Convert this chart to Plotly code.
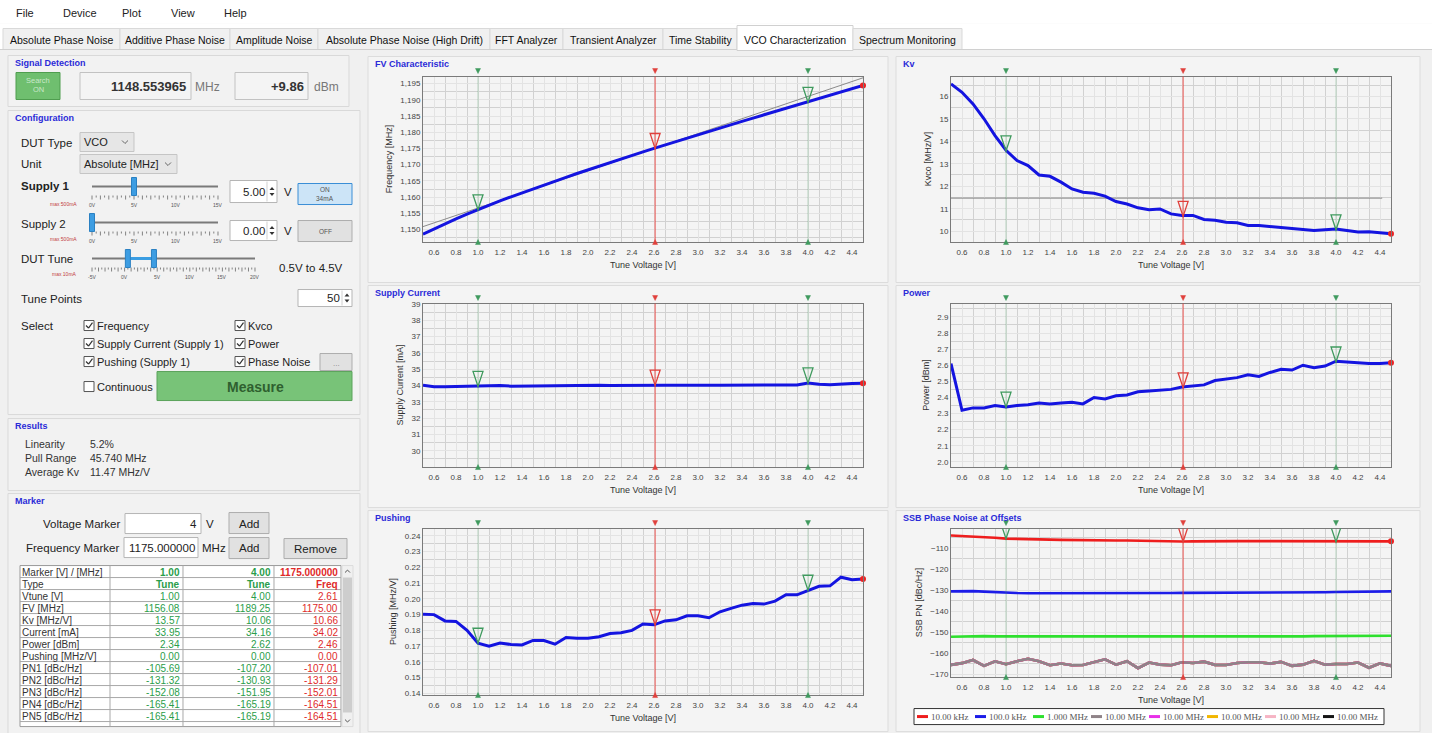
import plotly.graph_objects as go

W, H = 1432, 733
FONT = "Liberation Sans, Arial, sans-serif"
SERIF = "Liberation Serif, Times New Roman, serif"

# ---------------- data ----------------
tune_v = [0.5, 0.6, 0.7, 0.8, 0.9, 1.0, 1.1, 1.2, 1.3, 1.4, 1.5, 1.6, 1.7, 1.8, 1.9, 2.0,
          2.1, 2.2, 2.3, 2.4, 2.5, 2.6, 2.7, 2.8, 2.9, 3.0, 3.1, 3.2, 3.3, 3.4, 3.5, 3.6,
          3.7, 3.8, 3.9, 4.0, 4.1, 4.2, 4.3, 4.4, 4.5]
fv_mhz = [1148.55, 1150.19, 1151.78, 1153.31, 1154.77, 1156.17, 1157.51, 1158.81, 1160.08,
          1161.33, 1162.56, 1163.76, 1164.94, 1166.11, 1167.28, 1168.42, 1169.55, 1170.66,
          1171.76, 1172.86, 1173.95, 1175.02, 1176.09, 1177.15, 1178.20, 1179.24, 1180.28,
          1181.31, 1182.34, 1183.36, 1184.38, 1185.40, 1186.41, 1187.41, 1188.42, 1189.42,
          1190.43, 1191.43, 1192.42, 1193.42, 1194.41]
fv_fit_v = [0.5, 4.5]
fv_fit_mhz = [1150.9, 1196.8]
kv_mhz_v = [16.55, 16.18, 15.66, 15.00, 14.25, 13.60, 13.14, 12.92, 12.50, 12.44, 12.18,
            11.88, 11.73, 11.69, 11.56, 11.32, 11.21, 11.04, 10.95, 10.99, 10.77, 10.70,
            10.70, 10.52, 10.49, 10.40, 10.37, 10.25, 10.25, 10.22, 10.16, 10.12, 10.07,
            10.03, 10.06, 10.10, 10.03, 9.96, 9.97, 9.93, 9.89]
kv_avg_v = [0.5, 4.42]
kv_avg = [11.47, 11.47]
current_ma = [34.02, 33.93, 33.93, 33.95, 33.96, 33.95, 33.97, 34.00, 33.96, 33.97, 33.98,
              33.99, 34.00, 34.00, 34.00, 34.00, 34.01, 34.00, 34.01, 34.02, 34.01, 34.02,
              34.01, 34.01, 34.00, 34.01, 34.01, 34.02, 34.02, 34.02, 34.02, 34.03, 34.02,
              34.02, 34.03, 34.16, 34.08, 34.05, 34.10, 34.12, 34.14]
power_dbm = [2.61, 2.32, 2.335, 2.335, 2.35, 2.34, 2.35, 2.355, 2.365, 2.36, 2.365, 2.37,
             2.36, 2.40, 2.39, 2.41, 2.415, 2.435, 2.44, 2.447, 2.45, 2.465, 2.47, 2.478,
             2.505, 2.515, 2.523, 2.54, 2.53, 2.555, 2.575, 2.57, 2.60, 2.585, 2.595, 2.625,
             2.62, 2.615, 2.61, 2.61, 2.615]
pushing_mhz_v = [0.1903, 0.1900, 0.1860, 0.1857, 0.1800, 0.1718, 0.1700, 0.1720, 0.1710,
                 0.1707, 0.1736, 0.1735, 0.1712, 0.1755, 0.1750, 0.1750, 0.1760, 0.1780,
                 0.1785, 0.1800, 0.1840, 0.1835, 0.1860, 0.1867, 0.1893, 0.1893, 0.1880,
                 0.1918, 0.1940, 0.1960, 0.1970, 0.1967, 0.1986, 0.2026, 0.2026, 0.2055,
                 0.2080, 0.2083, 0.2138, 0.2122, 0.2127]
pn_10k = [-104.1, -104.3, -104.6, -104.9, -105.2, -105.6, -105.8, -105.9, -106.0, -106.1,
          -106.2, -106.3, -106.5, -106.6, -106.5, -106.5, -106.5, -106.6, -106.8, -107.1,
          -107.0, -107.0, -106.9, -106.8, -106.8, -106.8, -106.8, -106.8, -106.8, -106.8,
          -106.8, -106.9, -107.0, -107.1, -107.1, -107.1, -107.0, -107.0, -106.9, -106.9,
          -106.9]
pn_100k = [-130.6, -130.5, -130.5, -130.7, -131.0, -131.3, -131.4, -131.5, -131.5, -131.6,
           -131.6, -131.6, -131.5, -131.5, -131.5, -131.4, -131.4, -131.7, -131.6, -131.5,
           -131.4, -131.3, -131.3, -131.3, -131.2, -131.2, -131.2, -131.2, -131.1, -131.1,
           -131.1, -131.1, -131.1, -131.0, -131.0, -130.9, -130.9, -130.9, -130.8, -130.7,
           -130.6]
pn_1m = [-152.1, -151.9, -151.8, -151.8, -151.9, -151.9, -152.0, -152.0, -152.0, -152.0,
         -152.0, -152.0, -152.1, -152.2, -152.1, -152.1, -152.1, -152.1, -152.1, -152.0,
         -152.0, -152.0, -152.0, -152.0, -152.0, -152.0, -151.9, -151.9, -151.9, -152.0,
         -152.0, -152.0, -151.9, -151.8, -151.8, -151.8, -151.7, -151.7, -151.6, -151.6,
         -151.6]
pn_10m = [-165.4, -164.6, -163.1, -165.9, -163.7, -165.1, -163.7, -162.5, -163.7, -165.6,
          -164.8, -165.6, -165.5, -164.0, -162.8, -165.3, -163.7, -167.0, -164.3, -165.3,
          -165.6, -164.2, -164.5, -163.9, -165.4, -165.5, -164.5, -164.2, -164.2, -164.8,
          -164.0, -165.9, -165.3, -163.5, -165.3, -165.0, -165.0, -164.3, -166.8, -164.7,
          -165.9]
pn_names = ["10.00 kHz", "100.0 kHz", "1.000 MHz", "10.00 MHz", "10.00 MHz", "10.00 MHz",
            "10.00 MHz", "10.00 MHz"]
pn_colors = ["#ee1d1d", "#1c1ce8", "#2ee02e", "#8f8388", "#e830e8", "#f2b600", "#f6b4c4",
             "#151515"]
pn_series = [pn_10k, pn_100k, pn_1m, pn_10m, pn_10m, pn_10m, pn_10m, pn_10m]

# markers (tune 1.00 V, tune 4.00 V, freq 1175 MHz -> 2.61 V)
marker_v = [1.00, 4.00, 2.61]
marker_colors = ["#3f9a5e", "#3f9a5e", "#e0403c"]
fv_at = [1156.08, 1189.25, 1175.00]
kv_at = [13.57, 10.06, 10.66]
current_at = [33.95, 34.16, 34.02]
power_at = [2.34, 2.62, 2.46]
pushing_at = [0.1718, 0.2055, 0.1835]
pn1_at = [-105.69, -107.20, -107.01]

# marker table
tbl_labels = ["Marker [V] / [MHz]", "Type", "Vtune [V]", "FV [MHz]", "Kv [MHz/V]",
              "Current [mA]", "Power [dBm]", "Pushing [MHz/V]", "PN1 [dBc/Hz]",
              "PN2 [dBc/Hz]", "PN3 [dBc/Hz]", "PN4 [dBc/Hz]", "PN5 [dBc/Hz]"]
tbl_m1 = ["1.00", "Tune", "1.00", "1156.08", "13.57", "33.95", "2.34", "0.00", "-105.69",
          "-131.32", "-152.08", "-165.41", "-165.41"]
tbl_m2 = ["4.00", "Tune", "4.00", "1189.25", "10.06", "34.16", "2.62", "0.00", "-107.20",
          "-130.93", "-151.95", "-165.19", "-165.19"]
tbl_m3 = ["1175.000000", "Freq", "2.61", "1175.00", "10.66", "34.02", "2.46", "0.00",
          "-107.01", "-131.29", "-152.01", "-164.51", "-164.51"]

menu_items = [("File", 15), ("Device", 62), ("Plot", 121), ("View", 170), ("Help", 223)]
tabs = [("Absolute Phase Noise", 3, 120), ("Additive Phase Noise", 120, 230),
        ("Amplitude Noise", 230, 318), ("Absolute Phase Noise (High Drift)", 318, 490),
        ("FFT Analyzer", 490, 563), ("Transient Analyzer", 563, 663),
        ("Time Stability", 663, 737), ("VCO Characterization", 737, 853),
        ("Spectrum Monitoring", 853, 962)]
active_tab = "VCO Characterization"

# ---------------- helpers ----------------
# screen-pixel -> paper mapping (calibrated vertical offset/scale of the photographed page)
Y_OFF, Y_SC = 3.5, 0.989
shapes, annots = [], []


def X(x):
    return x / W


def Y(y):
    return 1 - ((y - Y_OFF) / Y_SC) / H


def rect(x0, y0, x1, y1, fill=None, line=None, lw=1, layer="below"):
    shapes.append(dict(type="rect", xref="paper", yref="paper", x0=X(x0), x1=X(x1),
                       y0=Y(y1), y1=Y(y0), fillcolor=fill or "rgba(0,0,0,0)",
                       line=dict(color=line or "rgba(0,0,0,0)", width=lw if line else 0),
                       layer=layer))


def segs(lst, color, w=1, layer="below"):
    p = " ".join(f"M{X(a):.5f},{Y(b):.5f} L{X(c):.5f},{Y(d):.5f}" for a, b, c, d in lst)
    shapes.append(dict(type="path", xref="paper", yref="paper", path=p,
                       line=dict(color=color, width=w), layer=layer))


def poly(pts, fill=None, line=None, lw=1, layer="below"):
    p = "M" + " L".join(f"{X(a):.5f},{Y(b):.5f}" for a, b in pts) + " Z"
    shapes.append(dict(type="path", xref="paper", yref="paper", path=p,
                       fillcolor=fill or "rgba(0,0,0,0)",
                       line=dict(color=line or "rgba(0,0,0,0)", width=lw if line else 0),
                       layer=layer))


def txt(x, y, s, size=11, color="#222", anchor="left", bold=False, family=FONT):
    annots.append(dict(xref="paper", yref="paper", x=X(x), y=Y(y), showarrow=False,
                       text=f"<b>{s}</b>" if bold else s, xanchor=anchor, yanchor="middle",
                       font=dict(family=family, size=size, color=color), borderpad=0))


def group(x0, y0, x1, y1, title):
    rect(x0, y0, x1, y1, fill="#f2f2f2", line="#d9d9d9")
    txt(x0 + 6, y0 + 7, title, size=9, color="#2b2bd8", bold=True)


def spin_arrows(x, yc):
    poly([(x - 2.5, yc - 1.5), (x + 2.5, yc - 1.5), (x, yc - 4.5)], fill="#333")
    poly([(x - 2.5, yc + 1.5), (x + 2.5, yc + 1.5), (x, yc + 4.5)], fill="#333")


def spinbox(x0, y0, x1, y1, value):
    rect(x0, y0, x1, y1, fill="#ffffff", line="#b5b5b5")
    txt(x1 - 11, (y0 + y1) / 2, value, size=11.5, color="#222", anchor="right")
    segs([(x1 - 10, y0 + 1, x1 - 10, y1 - 1)], "#d0d0d0")
    spin_arrows(x1 - 5, (y0 + y1) / 2)


def button(x0, y0, x1, y1, fill="#e1e1e1", line="#adadad"):
    rect(x0, y0, x1, y1, fill=fill, line=line)


def dropdown(x0, y0, x1, y1, value):
    rect(x0, y0, x1, y1, fill="#e6e6e6", line="#c5c5c5")
    txt(x0 + 3, (y0 + y1) / 2, value, size=11, color="#222")
    yc = (y0 + y1) / 2
    segs([(x1 - 12, yc - 1.5, x1 - 9, yc + 1.5), (x1 - 9, yc + 1.5, x1 - 6, yc - 1.5)], "#666")


def checkbox(x, y, label, checked=True):
    rect(x, y - 5, x + 10, y + 5, fill="#ffffff", line="#555")
    if checked:
        segs([(x + 2, y, x + 4.5, y + 2.5), (x + 4.5, y + 2.5, x + 8.5, y - 3)], "#333", 1.2)
    txt(x + 12, y, label, size=11, color="#222")


def slider(x0, x1, y, vmin, vmax, thumbs, labels, maxtxt, maxy):
    segs([(x0, y, x1, y)], "#7a7a7a", 2)
    n = int((vmax - vmin) * 2)
    tl = []
    for i in range(n + 1):
        xx = x0 + (x1 - x0) * i / n
        h = 4 if i % 2 == 0 else 2
        tl.append((xx, y + 9, xx, y + 9 + h))
    segs(tl, "#666", 0.8)
    for lv in labels:
        xx = x0 + (x1 - x0) * (lv - vmin) / (vmax - vmin)
        txt(xx, y + 18, f"{lv}V", size=5, color="#555", anchor="center")
    pos = [x0 + (x1 - x0) * (t - vmin) / (vmax - vmin) for t in thumbs]
    if len(pos) == 2:
        segs([(pos[0], y, pos[1], y)], "#3a9de2", 3)
    for xx in pos:
        rect(xx - 2.5, y - 9, xx + 2.5, y + 9, fill="#3d9de2", line="#2a80c2")
    txt(78, maxy, maxtxt, size=5, color="#c24040", anchor="right")


# ---------------- window chrome ----------------
rect(0, -10, W, 23, fill="#ffffff")
for name, x in menu_items:
    txt(x, 12, name, size=11, color="#222")
rect(0, 23, W, 49, fill="#ffffff")
for name, x0, x1 in tabs:
    if name == active_tab:
        rect(x0, 25, x1, 50, fill="#ffffff", line="#d0d0d0")
    else:
        rect(x0, 28, x1, 49, fill="#f0f0f0", line="#d9d9d9")
    txt((x0 + x1) / 2, 39, name, size=10.5, color="#111", anchor="center")
segs([(0, 49, 737, 49), (853, 49, W, 49)], "#d0d0d0")

# ---------------- left panel ----------------
group(8, 55, 349, 106, "Signal Detection")
button(16, 72, 60, 99, fill="#6fbf6f", line="#4f9d4f")
txt(38, 80, "Search", size=7.5, color="#c9e7c9", anchor="center")
txt(38, 89, "ON", size=7.5, color="#c9e7c9", anchor="center")
rect(80, 72, 191, 99, fill="#f4f4f4", line="#c2c2c2")
txt(187, 86, "1148.553965", size=13, color="#333", anchor="right", bold=True)
txt(194, 86, "MHz", size=12, color="#777")
rect(235, 72, 308, 99, fill="#f4f4f4", line="#c2c2c2")
txt(305, 86, "+9.86", size=13, color="#333", anchor="right", bold=True)
txt(313, 86, "dBm", size=12, color="#777")

group(8, 110, 360, 414, "Configuration")
txt(20, 142, "DUT Type", size=11.5)
dropdown(80, 132, 134, 151, "VCO")
txt(20, 163, "Unit", size=11.5)
dropdown(80, 154, 177, 173, "Absolute [MHz]")
txt(20, 185, "Supply 1", size=11.5, bold=True)
slider(92, 218, 186, 0, 15, [5], [0, 5, 10, 15], "max 500mA", 203)
spinbox(230, 180, 277, 202, "5.00")
txt(283, 191, "V", size=11.5)
button(298, 183, 352, 204, fill="#cce4f7", line="#3a8ed6")
txt(325, 189, "ON", size=6.5, color="#555", anchor="center")
txt(325, 198, "34mA", size=6.5, color="#555", anchor="center")
txt(20, 223, "Supply 2", size=11.5)
slider(92, 218, 222, 0, 15, [0], [0, 5, 10, 15], "max 500mA", 238)
spinbox(230, 220, 277, 240, "0.00")
txt(283, 230, "V", size=11.5)
button(298, 220, 352, 241)
txt(325, 231, "OFF", size=6.5, color="#555", anchor="center")
txt(20, 258, "DUT Tune", size=11.5)
slider(92, 255, 258, -5, 20, [0.5, 4.5], [-5, 0, 5, 10, 15, 20], "max 10mA", 273)
txt(278, 267, "0.5V to 4.5V", size=11.5)
txt(20, 298, "Tune Points", size=11.5)
spinbox(298, 289, 352, 306, "50")

txt(20, 325, "Select", size=11.5)
checkbox(84, 325, "Frequency")
checkbox(235, 325, "Kvco")
checkbox(84, 343, "Supply Current (Supply 1)")
checkbox(235, 343, "Power")
checkbox(84, 361, "Pushing (Supply 1)")
checkbox(235, 361, "Phase Noise")
button(320, 353, 352, 370)
txt(336, 363, "...", size=8, color="#888", anchor="center")
checkbox(84, 386, "Continuous", checked=False)
button(157, 371, 352, 400, fill="#78c378", line="#5aa35a")
txt(255, 386, "Measure", size=14, color="#2f5f2f", anchor="center", bold=True)

group(8, 418, 360, 490, "Results")
for (lab, val, yy) in [("Linearity", "5.2%", 443), ("Pull Range", "45.740 MHz", 457),
                       ("Average Kv", "11.47 MHz/V", 471)]:
    txt(24, yy, lab, size=10.5, color="#333")
    txt(89, yy, val, size=10.5, color="#333")

group(8, 493, 360, 740, "Marker")
txt(122, 523, "Voltage Marker", size=11.5, anchor="right")
rect(125, 513, 201, 533, fill="#ffffff", line="#b5b5b5")
txt(198, 523, "4", size=11.5, anchor="right")
txt(205, 523, "V", size=11.5)
button(229, 512, 269, 533)
txt(249, 523, "Add", size=11.5, anchor="center")
txt(120, 547, "Frequency Marker", size=11.5, anchor="right")
rect(124, 537, 198, 557, fill="#ffffff", line="#b5b5b5")
txt(196, 547, "1175.000000", size=11.5, anchor="right")
txt(201, 547, "MHz", size=11.5)
button(229, 537, 269, 558)
txt(249, 547, "Add", size=11.5, anchor="center")
button(284, 538, 347, 558)
txt(315, 548, "Remove", size=11.5, anchor="center")

# ---------------- marker table (drawn as a grid) ----------------
tbl_cols = [20, 110, 183, 274, 341]
tbl_top, row_h = 565, 12
tbl_bottom = 726
rect(tbl_cols[0], tbl_top, tbl_cols[-1], tbl_bottom, fill="#ffffff", line="#9a9a9a")
grid = []
for r in range(1, len(tbl_labels) + 1):
    yy = tbl_top + r * row_h
    grid.append((tbl_cols[0], yy, tbl_cols[-1], yy))
for cx in tbl_cols[1:-1]:
    grid.append((cx, tbl_top, cx, tbl_bottom))
segs(grid, "#a8a8a8", 1)
col_colors = ["#2a9d4a", "#2a9d4a", "#e02a2a"]
for r, lab in enumerate(tbl_labels):
    yc = tbl_top + r * row_h + 6.5
    txt(tbl_cols[0] + 1, yc, lab, size=10, color="#333")
    for ci, col in enumerate([tbl_m1, tbl_m2, tbl_m3]):
        txt(tbl_cols[ci + 2] - 2, yc, col[r], size=10, color=col_colors[ci], anchor="right",
            bold=(r < 2))
# scrollbar
rect(342, 565, 353, 726, fill="#f0f0f0", line="#dcdcdc")
rect(343, 577, 352, 712, fill="#cdcdcd")
segs([(345, 572, 347.5, 569.5), (347.5, 569.5, 350, 572)], "#555", 1)
segs([(345, 719, 347.5, 721.5), (347.5, 721.5, 350, 719)], "#555", 1)

# ---------------- chart panels ----------------
charts = [
    dict(title="FV Characteristic", panel=(368, 56, 888, 282), box=(423, 76, 863, 241),
         y=fv_mhz, at=fv_at, yr=[1146.3, 1197.2], t0=1150, dt=5, fmt=",d",
         ytitle="Frequency [MHz]", extra=(fv_fit_v, fv_fit_mhz)),
    dict(title="Kv", panel=(896, 56, 1420, 282), box=(951, 76, 1391, 241),
         y=kv_mhz_v, at=kv_at, yr=[9.54, 16.88], t0=10, dt=1, fmt="d",
         ytitle="Kvco [MHz/V]", extra=(kv_avg_v, kv_avg)),
    dict(title="Supply Current", panel=(368, 285, 888, 507), box=(423, 303, 863, 466),
         y=current_ma, at=current_at, yr=[29.03, 39.03], t0=30, dt=1, fmt="d",
         ytitle="Supply Current [mA]", extra=None),
    dict(title="Power", panel=(896, 285, 1420, 507), box=(951, 303, 1391, 466),
         y=power_dbm, at=power_at, yr=[1.971, 2.983], t0=2.0, dt=0.1, fmt=".1f",
         ytitle="Power [dBm]", extra=None),
    dict(title="Pushing", panel=(368, 510, 888, 731), box=(423, 528, 863, 694),
         y=pushing_mhz_v, at=pushing_at, yr=[0.1392, 0.2447], t0=0.14, dt=0.01, fmt=".2f",
         ytitle="Pushing [MHz/V]", extra=None),
    dict(title="SSB Phase Noise at Offsets", panel=(896, 510, 1420, 731),
         box=(951, 528, 1391, 676), y=None, at=pn1_at, yr=[-170.95, -100.84], t0=-170,
         dt=10, fmt="d", ytitle="SSB PN [dBc/Hz]", extra=None),
]

GRID = "#e3e3e3"
GRID2 = "#d1d1d1"
BLUE = "#1414e0"
layout_axes = {}
fig = go.Figure()
for i, c in enumerate(charts):
    k = "" if i == 0 else str(i + 1)
    xr, yr = "x" + k, "y" + k
    px0, py0, px1, py1 = c["panel"]
    rect(px0, py0, px1, py1, fill="#f4f4f4", line="#dcdcdc")
    txt(px0 + 6, py0 + 7, c["title"], size=9, color="#2b2bd8", bold=True)
    bx0, by0, bx1, by1 = c["box"]
    layout_axes["xaxis" + k] = dict(
        domain=[X(bx0), X(bx1)], range=[0.5, 4.5], anchor=yr, tickmode="linear",
        tick0=0.6, dtick=0.2, tickformat=".1f", showgrid=True, gridcolor=GRID, gridwidth=1,
        minor=dict(tickmode="linear", tick0=0.5, dtick=0.1, showgrid=True, gridcolor=GRID2,
                   gridwidth=1),
        showline=True, linecolor="#7a7a7a", linewidth=1, mirror=True, zeroline=False,
        ticks="", ticklabelstandoff=3, tickfont=dict(family=FONT, size=8, color="#444"),
        title=dict(text="Tune Voltage [V]", font=dict(family=FONT, size=9, color="#333"),
                   standoff=5), fixedrange=True)
    layout_axes["yaxis" + k] = dict(
        domain=[Y(by1), Y(by0)], range=c["yr"], anchor=xr, tickmode="linear",
        tick0=c["t0"], dtick=c["dt"], tickformat=c["fmt"], showgrid=True, gridcolor=GRID,
        minor=dict(tickmode="linear", tick0=c["t0"], dtick=c["dt"] / 2, showgrid=True,
                   gridcolor=GRID2),
        showline=True, linecolor="#7a7a7a", linewidth=1, mirror=True, zeroline=False,
        ticks="", tickfont=dict(family=FONT, size=8, color="#444"),
        title=dict(text=c["ytitle"], font=dict(family=FONT, size=9, color="#333"),
                   standoff=6), fixedrange=True)
    # marker lines & small triangles
    for mv, mc in zip(marker_v, marker_colors):
        lc = "rgba(230,60,56,0.9)" if mc == "#e0403c" else "rgba(70,150,95,0.35)"
        shapes.append(dict(type="line", xref=xr, yref=yr + " domain", x0=mv, x1=mv, y0=0,
                           y1=1, line=dict(color=lc, width=1), layer="above"))
        shapes.append(dict(type="path", xref=xr, yref=yr + " domain", xsizemode="pixel",
                           ysizemode="pixel", xanchor=mv, yanchor=1,
                           path="M -2.5 8 L 2.5 8 L 0 3 Z", fillcolor=mc,
                           line=dict(color=mc, width=0.5), layer="above"))
        shapes.append(dict(type="path", xref=xr, yref=yr + " domain", xsizemode="pixel",
                           ysizemode="pixel", xanchor=mv, yanchor=0,
                           path="M -2.5 -3 L 2.5 -3 L 0 2 Z", fillcolor=mc,
                           line=dict(color=mc, width=0.5), layer="above"))
    for mv, mc, ya in zip(marker_v, marker_colors, c["at"]):
        shapes.append(dict(type="path", xref=xr, yref=yr, xsizemode="pixel",
                           ysizemode="pixel", xanchor=mv, yanchor=ya,
                           path="M -5 15 L 5 15 L 0 0 Z", fillcolor="rgba(0,0,0,0)",
                           line=dict(color=mc, width=1.3), layer="above"))

    if c["y"] is not None:
        if c["extra"]:
            fig.add_trace(go.Scatter(x=c["extra"][0], y=c["extra"][1], mode="lines",
                                     line=dict(color="#8a8a8a", width=1), xaxis=xr,
                                     yaxis=yr, showlegend=False, hoverinfo="skip"))
        fig.add_trace(go.Scatter(x=tune_v, y=c["y"], mode="lines",
                                 line=dict(color=BLUE, width=3), xaxis=xr, yaxis=yr,
                                 showlegend=False))
        fig.add_trace(go.Scatter(x=[tune_v[-1]], y=[c["y"][-1]], mode="markers",
                                 marker=dict(color="#ee2222", size=6), xaxis=xr, yaxis=yr,
                                 showlegend=False, cliponaxis=False))
    else:
        for j in reversed(range(len(pn_series))):
            fig.add_trace(go.Scatter(x=tune_v, y=pn_series[j], mode="lines",
                                     name=pn_names[j],
                                     line=dict(color=pn_colors[j], width=2.6), xaxis=xr,
                                     yaxis=yr, showlegend=False))
        fig.add_trace(go.Scatter(x=[tune_v[-1]], y=[pn_series[0][-1]], mode="markers",
                                 marker=dict(color="#ee2222", size=6), xaxis=xr, yaxis=yr,
                                 showlegend=False, cliponaxis=False))

# manual legend for SSB chart
rect(914, 708, 1384, 724, fill="#ffffff", line="#333333")
for j, (nm, col) in enumerate(zip(pn_names, pn_colors)):
    lx = 917 + j * 58
    segs([(lx, 716, lx + 11, 716)], col, 3, layer="above")
    txt(lx + 13, 716, nm, size=9, color="#555", family=SERIF)

fig.update_layout(width=W, height=H, margin=dict(l=0, r=0, t=0, b=0),
                  paper_bgcolor="#f0f0f0", plot_bgcolor="#c3c3c3", showlegend=False,
                  shapes=shapes, annotations=annots, font=dict(family=FONT),
                  **layout_axes)

page_fix = (
    "var de=document.documentElement, b=document.body;"
    "de.style.margin='0';de.style.padding='0';de.style.overflow='hidden';"
    "de.style.background='#ffffff';"
    "b.style.margin='0';b.style.padding='0';b.style.overflow='hidden';"
)
fig.write_html("out.html", config=dict(displayModeBar=False), post_script=page_fix)
